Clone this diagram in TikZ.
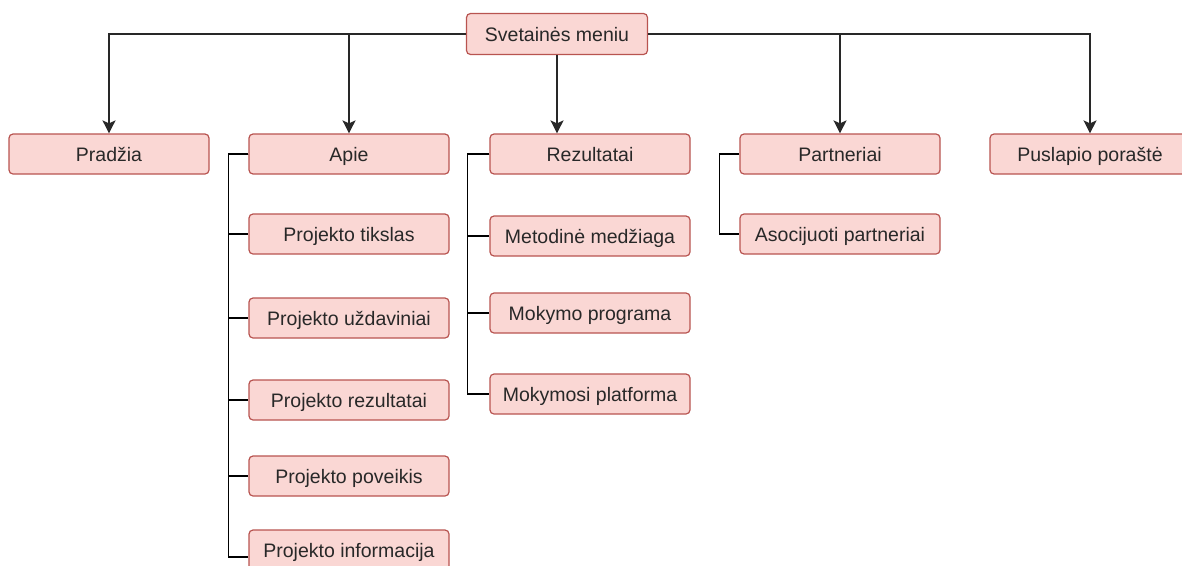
\documentclass[tikz,border=0pt]{standalone}
\usepackage{fontspec}
\setmainfont{Liberation Sans}
\usetikzlibrary{arrows.meta,positioning}
\definecolor{menufill}{RGB}{250,215,212}
\definecolor{menuline}{RGB}{184,84,80}
\definecolor{linkgray}{RGB}{40,40,40}

\begin{document}
\begin{tikzpicture}[x=1pt,y=-1pt,
    menu/.style={draw=menuline,fill=menufill,line width=1.2pt,rounded corners=4pt,
      minimum width=200pt,minimum height=40pt,inner sep=0pt,text height=18pt,text depth=4pt,
      font=\fontsize{19.5}{22}\selectfont,text=linkgray},
    down/.style={-{Stealth[length=13pt,width=13pt,inset=3pt]},line width=1.8pt,linkgray},
    branch/.style={line width=1.5pt,black}]
    \useasboundingbox (0,0) rectangle (1182,565);
    % Root
    \node[menu,minimum width=181pt,minimum height=41pt] (menu) at (557,34) {Svetainės meniu};
    % First level
    \node[menu] (pradzia) at (109,154) {Pradžia};
    \node[menu] (apie) at (349,154) {Apie};
    \node[menu] (rezult) at (590,154) {Rezultatai};
    \node[menu] (partner) at (840,154) {Partneriai};
    \node[menu] (porast) at (1090,154) {Puslapio poraštė};
    % Arrows from root
    \draw[down] (menu.west) -| (pradzia.north);
    \draw[down] (menu.west) -| (apie.north);
    \draw[down] (menu.south) -- (menu.south |- rezult.north);
    \draw[down] (menu.east) -| (partner.north);
    \draw[down] (menu.east) -| (porast.north);
    % Apie submenu
    \foreach \n/\y/\txt in {a1/234/Projekto tikslas,a2/318/Projekto uždaviniai,
        a3/400/Projekto rezultatai,a4/476/Projekto poveikis} {
      \node[menu] (\n) at (349,\y) {\txt};
      \draw[branch] (apie.west) -- ++(-20,0) |- (\n.west);
    }
    % last one runs off the bottom edge
    \node[menu] (a5) at (349,550) {Projekto informacija};
    \draw[branch] (apie.west) -- ++(-20,0) |- ([yshift=-7pt]a5.west);
    % Rezultatai submenu
    \foreach \n/\y/\txt in {r1/236/Metodinė medžiaga,r2/313/Mokymo programa,
        r3/394/Mokymosi platforma} {
      \node[menu] (\n) at (590,\y) {\txt};
      \draw[branch] (rezult.west) -- ++(-22,0) |- (\n.west);
    }
    % Partneriai submenu
    \node[menu] (p1) at (840,234) {Asocijuoti partneriai};
    \draw[branch] (partner.west) -- ++(-20,0) |- (p1.west);
  \end{tikzpicture}
\end{document}
